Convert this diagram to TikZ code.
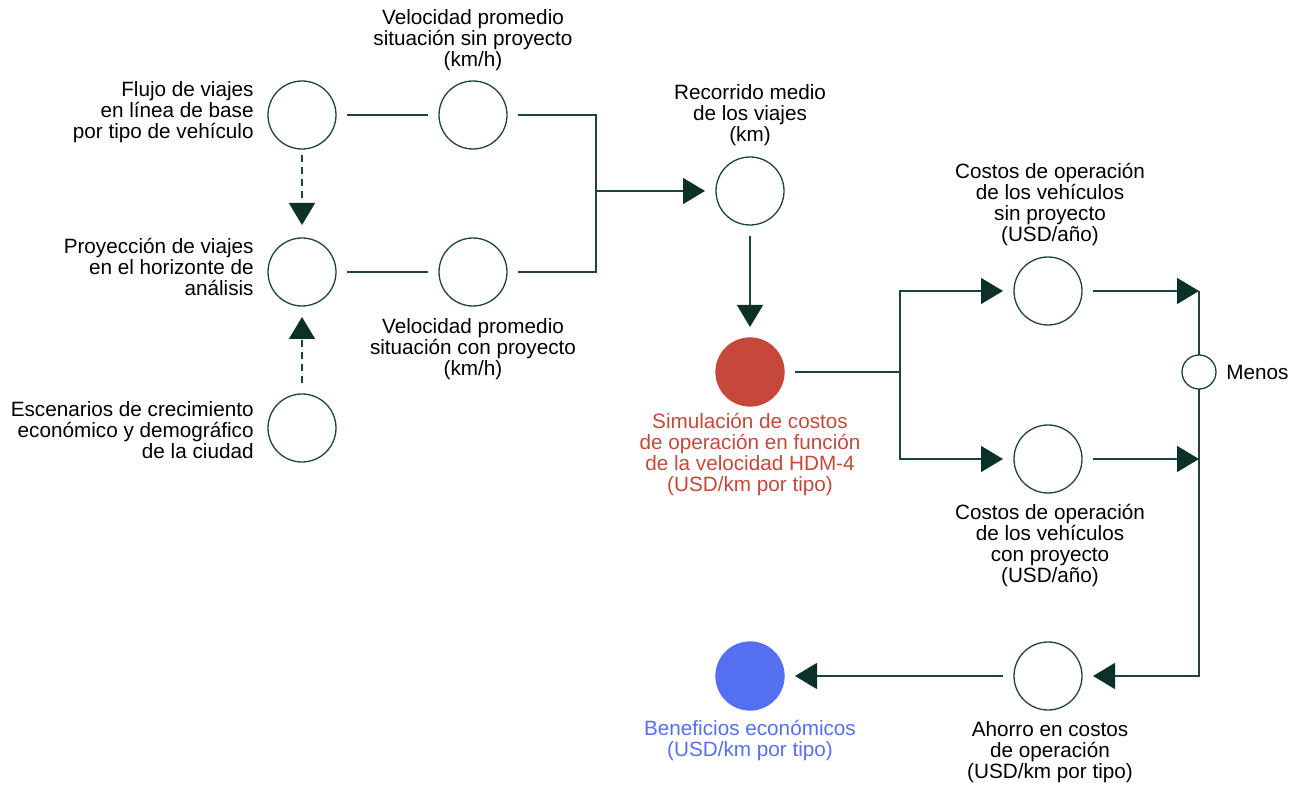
\documentclass[tikz,border=0pt]{standalone}
\usepackage{fontspec}
\setmainfont{Liberation Sans}
\usetikzlibrary{arrows.meta}

\definecolor{FlowGreen}{HTML}{1D4439}
\definecolor{TipGreen}{HTML}{0B3129}
\definecolor{FlowRed}{HTML}{C5483A}
\definecolor{FlowBlue}{HTML}{5470F0}
\tikzstyle{flow-circle}=[circle, draw=FlowGreen, line width=0.65pt, minimum size=34pt, inner sep=0pt, outer sep=5.5pt]
\tikzstyle{flow-label}=[inner sep=0pt, font=\fontsize{10.35}{10.5}\selectfont, text=black]
\tikzstyle{flow-line}=[draw=FlowGreen, line width=0.7pt]
\tikzstyle{flow-arrow}=[flow-line, -{Triangle[length=11pt, width=13pt, color=TipGreen]}]
\tikzstyle{flow-dash}=[flow-arrow, dash pattern=on 3.5pt off 2.5pt]

\begin{document}
\begin{tikzpicture}[x=0.5pt, y=-0.5pt]
      \useasboundingbox (0,0) rectangle (1295,785);

      % circles
      \node (circle-flujo) at (302,115) [flow-circle] {};
      \node (circle-velsin) at (473,115) [flow-circle] {};
      \node (circle-proy) at (302,272) [flow-circle] {};
      \node (circle-velcon) at (473,272) [flow-circle] {};
      \node (circle-esc) at (302,428) [flow-circle] {};
      \node (circle-rec) at (750,191) [flow-circle] {};
      \node (circle-sim) at (750,372) [flow-circle, draw=FlowRed, fill=FlowRed] {};
      \node (circle-cossin) at (1048,291) [flow-circle] {};
      \node (circle-coscon) at (1048,459) [flow-circle] {};
      \node (circle-menos) at (1199,372) [flow-circle, minimum size=17pt, outer sep=0pt] {};
      \node (circle-ahorro) at (1048,676) [flow-circle] {};
      \node (circle-benef) at (750,676) [flow-circle, draw=FlowBlue, fill=FlowBlue] {};

      % texts
      \node (label-velsin) at (473,40) [flow-label, align=center] {Velocidad promedio\\situación sin proyecto\\(km/h)};
      \node (label-flujo) at (254,112) [flow-label, anchor=east, align=right] {Flujo de viajes\\en línea de base\\por tipo de vehículo};
      \node (label-proy) at (254,267) [flow-label, anchor=east, align=right] {Proyección de viajes\\en el horizonte de\\análisis};
      \node (label-velcon) at (473,349) [flow-label, align=center] {Velocidad promedio\\situación con proyecto\\(km/h)};
      \node (label-esc) at (254,430) [flow-label, anchor=east, align=right] {Escenarios de crecimiento\\económico y demográfico\hspace{3pt}\\de la ciudad};
      \node (label-rec) at (750,115) [flow-label, align=center] {Recorrido medio\\de los viajes\\(km)};
      \node (label-cossin) at (1050,205) [flow-label, align=center] {Costos de operación\\de los vehículos\\sin proyecto\\(USD/año)};
      \node (label-sim) at (750,455) [flow-label, align=center, text=FlowRed] {Simulación de costos\\de operación en función\\de la velocidad HDM-4\\(USD/km por tipo)};
      \node (label-coscon) at (1050,546) [flow-label, align=center] {Costos de operación\\de los vehículos\\con proyecto\\(USD/año)};
      \node (label-menos) at (1226,372) [flow-label, anchor=west] {Menos};
      \node (label-benef) at (750,741) [flow-label, align=center, text=FlowBlue] {Beneficios económicos\\(USD/km por tipo)};
      \node (label-ahorro) at (1050,752) [flow-label, align=center] {Ahorro en costos\\de operación\\(USD/km por tipo)};

      % joins
      \coordinate (join-rec) at (596,191);
      \coordinate (join-sim) at (900,372);

      % connectors
      \draw[flow-line] (circle-flujo) -- (circle-velsin);
      \draw[flow-line] (circle-proy) -- (circle-velcon);
      \draw[flow-line] (circle-velsin) -| (join-rec) |- (circle-velcon);
      \draw[flow-arrow] (join-rec) -- (circle-rec);
      \draw[flow-arrow] (circle-rec) -- (circle-sim);
      \draw[flow-line] (circle-sim) -- (join-sim);
      \draw[flow-arrow] (join-sim) |- (circle-cossin);
      \draw[flow-arrow] (join-sim) |- (circle-coscon);
      \draw[flow-arrow] (circle-cossin) -- (circle-cossin -| circle-menos);
      \draw[flow-arrow] (circle-coscon) -- (circle-coscon -| circle-menos);
      \draw[flow-line] (circle-cossin -| circle-menos) -- (circle-menos);
      \draw[flow-arrow] (circle-menos) |- (circle-ahorro);
      \draw[flow-arrow] (circle-ahorro) -- (circle-benef);
      \draw[flow-dash, shorten <=-2.5pt, shorten >=1pt] (circle-flujo) -- (circle-proy);
      \draw[flow-dash] (circle-esc) -- (circle-proy);
    \end{tikzpicture}
\end{document}
